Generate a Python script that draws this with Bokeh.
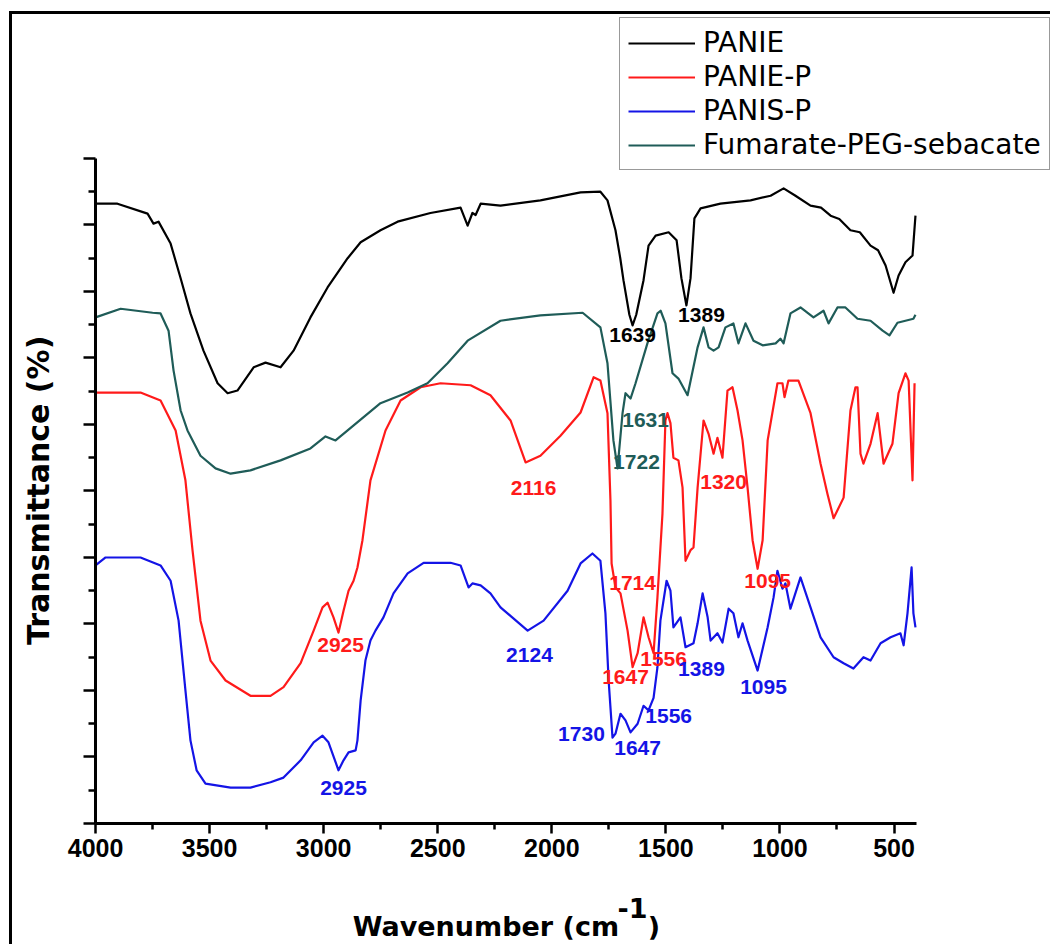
from bokeh.plotting import figure
from bokeh.models import Range1d, FixedTicker, Legend, LegendItem, Label
from bokeh.embed import file_html
from bokeh.resources import INLINE

# ---------------- data ----------------
panie_wn = [4000, 3904, 3772, 3746, 3724, 3671, 3628, 3584, 3527, 3465, 3421, 3378, 3307, 3255, 3189,
            3132, 3058, 2983, 2895, 2838, 2751, 2676, 2532, 2400, 2369, 2348, 2334, 2312, 2225, 2050,
            1874, 1787, 1756, 1721, 1700, 1686, 1660, 1646, 1630, 1598, 1576, 1545, 1488, 1453, 1432,
            1410, 1392, 1375, 1348, 1261, 1129, 1041, 984, 932, 866, 820, 778, 740, 691, 650, 603,
            570, 537, 502, 480, 450, 419, 406]
panie_t = [93.2, 93.2, 91.7, 90.2, 90.5, 87.2, 82.1, 76.7, 71.1, 66.2, 64.7, 65.1, 68.6, 69.3, 68.6,
           71.1, 76.1, 80.6, 85.0, 87.4, 89.2, 90.5, 91.8, 92.6, 89.9, 91.8, 91.5, 93.2, 92.9, 93.7,
           94.9, 95.0, 93.7, 89.2, 85.0, 81.7, 76.5, 74.9, 76.5, 81.7, 86.9, 88.4, 88.9, 87.7, 82.0,
           77.9, 82.0, 91.0, 92.5, 93.2, 93.7, 94.4, 95.5, 94.4, 92.9, 92.6, 91.4, 90.9, 89.2, 88.9, 86.9,
           86.2, 83.9, 79.8, 82.4, 84.4, 85.4, 91.4]

paniep_wn = [4000, 3803, 3715, 3649, 3606, 3575, 3540, 3496, 3430, 3321, 3233, 3176, 3101, 3044, 3005,
             2983, 2957, 2935, 2913, 2891, 2869, 2852, 2830, 2795, 2729, 2663, 2575, 2488, 2356, 2269,
             2181, 2115, 2050, 1962, 1874, 1817, 1787, 1756, 1743, 1738, 1721, 1699, 1668, 1646, 1624,
             1598, 1576, 1554, 1537, 1515, 1502, 1493, 1480, 1467, 1445, 1427, 1414, 1392, 1379, 1361,
             1335, 1313, 1291, 1274, 1252, 1230, 1208, 1186, 1164, 1142, 1120, 1098, 1076, 1054, 1011,
             989, 980, 963, 919, 866, 822, 792, 765, 721, 691, 669, 660, 647, 634, 603, 572, 546, 507,
             480, 450, 436, 419, 410]
paniep_t = [64.8, 64.8, 63.6, 59.1, 51.6, 41.1, 30.5, 24.5, 21.5, 19.2, 19.2, 20.5, 24.1, 29.0, 32.5,
            33.2, 31.0, 28.7, 32.0, 35.0, 36.5, 38.5, 42.6, 51.6, 59.1, 63.6, 65.6, 66.2, 65.9, 64.4,
            60.6, 54.3, 55.3, 58.3, 61.8, 67.1, 66.6, 61.7, 48.6, 39.1, 35.5, 34.6, 29.0, 23.5, 25.6,
            31.0, 28.0, 25.6, 34.0, 46.6, 60.6, 61.7, 60.2, 55.0, 54.6, 50.5, 39.5, 41.1, 41.5, 50.5,
            60.6, 58.6, 55.6, 58.0, 55.0, 65.1, 65.6, 62.1, 57.6, 50.5, 42.6, 38.3, 42.6, 57.6, 66.2,
            66.2, 64.1, 66.6, 66.6, 61.7, 54.1, 49.6, 45.9, 49.0, 62.1, 65.6, 65.6, 55.6, 54.1, 57.1,
            61.7, 54.1, 57.1, 64.7, 67.7, 66.6, 51.6, 66.2]

panisp_wn = [4000, 3956, 3803, 3715, 3671, 3636, 3606, 3584, 3557, 3518, 3408, 3321, 3233, 3176, 3101,
             3044, 3005, 2979, 2935, 2913, 2891, 2860, 2852, 2838, 2817, 2795, 2773, 2738, 2694, 2632,
             2562, 2444, 2400, 2365, 2348, 2312, 2269, 2225, 2106, 2036, 1931, 1874, 1822, 1787, 1765,
             1751, 1734, 1721, 1699, 1677, 1655, 1624, 1598, 1576, 1554, 1537, 1524, 1497, 1480, 1467,
             1436, 1414, 1379, 1361, 1339, 1317, 1304, 1274, 1252, 1225, 1204, 1182, 1164, 1142, 1098,
             1054, 1028, 1011, 989, 976, 954, 910, 866, 822, 765, 721, 678, 634, 603, 559, 515, 472,
             458, 441, 423, 415, 406]
panisp_t = [38.8, 40.0, 40.0, 38.8, 36.5, 30.5, 20.0, 12.5, 8.0, 6.0, 5.4, 5.4, 6.2, 6.9, 9.5,
            12.2, 13.2, 12.2, 8.0, 9.5, 10.7, 11.0, 12.5, 18.5, 24.5, 27.5, 29.0, 31.0, 34.6, 37.6,
            39.2, 39.2, 38.8, 35.5, 36.1, 35.8, 34.6, 32.5, 29.0, 30.5, 35.0, 39.1, 40.6, 39.5, 31.6,
            21.5, 12.9, 13.5, 16.5, 15.5, 13.7, 15.0, 17.7, 17.0, 18.9, 23.5, 30.5, 36.5, 35.0, 29.5,
            31.0, 26.5, 27.1, 30.1, 34.6, 31.0, 27.5, 28.6, 27.2, 32.3, 31.6, 28.0, 30.1, 27.5, 23.0,
            29.5, 34.0, 38.0, 35.3, 36.1, 32.3, 37.0, 32.5, 28.0, 25.0, 24.1, 23.3, 25.0, 24.5, 27.1,
            28.0, 28.6, 26.8, 31.6, 38.5, 31.6, 29.5]

fps_wn = [4000, 3890, 3750, 3715, 3680, 3658, 3627, 3597, 3540, 3474, 3408, 3321, 3189, 3058, 2992,
          2948, 2895, 2751, 2632, 2545, 2457, 2369, 2225, 2050, 1865, 1787, 1756, 1730, 1712, 1690,
          1677, 1655, 1633, 1581, 1537, 1523, 1502, 1471, 1445, 1405, 1361, 1335, 1313, 1291, 1269,
          1239, 1204, 1182, 1151, 1116, 1076, 1019, 998, 984, 954, 910, 853, 809, 787, 748, 713,
          660, 603, 550, 520, 485, 450, 415, 406]
fps_t = [76.1, 77.4, 76.8, 76.7, 74.1, 68.1, 62.1, 59.1, 55.3, 53.4, 52.6, 53.1, 54.6, 56.4, 58.2,
         57.6, 59.1, 63.2, 64.8, 66.2, 69.2, 72.6, 75.6, 76.4, 76.8, 74.6, 69.2, 57.6, 53.4, 61.7,
         64.7, 63.9, 66.2, 72.2, 76.7, 77.1, 75.2, 67.7, 66.9, 64.4, 71.6, 74.6, 71.6, 71.1, 71.6,
         74.6, 75.2, 72.2, 75.2, 72.6, 71.9, 72.2, 72.9, 72.2, 76.7, 77.6, 76.1, 77.1, 75.2, 77.6, 77.6,
         75.9, 75.6, 74.1, 73.4, 75.3, 75.6, 75.9, 76.5]

series_names = ["PANIE", "PANIE-P", "PANIS-P", "Fumarate-PEG-sebacate"]
series_colors = ["#000000", "#ff1a1a", "#1414e6", "#1f5c58"]

# peak annotations: label, wavenumber position, transmittance position, series index
ann_text = ["1639", "1389", "1631", "1722", "2116", "1320", "1714", "1095", "2925", "1647", "1556",
            "2124", "1389", "1095", "1556", "1730", "1647", "2925"]
ann_wn = [1646, 1344, 1589, 1629, 2080, 1247, 1646, 1054, 2926, 1677, 1510,
          2098, 1344, 1072, 1488, 1870, 1624, 2913]
ann_t = [73.4, 76.5, 60.6, 54.3, 50.5, 51.4, 36.2, 36.5, 26.9, 22.0, 24.8,
         25.3, 23.3, 20.5, 16.2, 13.5, 11.3, 5.3]
ann_series = [0, 0, 3, 3, 1, 1, 1, 1, 1, 1, 1, 2, 2, 2, 2, 2, 2, 2]

x_major = [4000, 3500, 3000, 2500, 2000, 1500, 1000, 500]
x_minor = [3750, 3250, 2750, 2250, 1750, 1250, 750]
y_major = [0, 10, 20, 30, 40, 50, 60, 70, 80, 90, 100]
y_minor = [5, 15, 25, 35, 45, 55, 65, 75, 85, 95]

# ---------------- figure ----------------
W, H = 1041, 933
p = figure(width=W, height=H, output_backend="svg", toolbar_location=None,
           x_range=Range1d(4364, -199), y_range=Range1d(-18.65, 121.65),
           min_border_left=0, min_border_right=0, min_border_top=0, min_border_bottom=0)
p.styles = {"border-left": "3px solid black", "border-top": "3px solid black",
            "margin-left": "9px", "margin-top": "11px"}
p.outline_line_color = None
p.xgrid.visible = False
p.ygrid.visible = False
p.background_fill_color = "white"
p.border_fill_color = "white"

for ax in (p.xaxis[0], p.yaxis[0]):
    ax.axis_line_width = 3
    ax.axis_line_color = "black"
    ax.major_tick_line_width = 2.5
    ax.minor_tick_line_width = 2.5
    ax.major_tick_in = 0
    ax.minor_tick_in = 0

p.xaxis.fixed_location = 0
p.xaxis.bounds = (400, 4000)
p.xaxis.ticker = FixedTicker(ticks=x_major, minor_ticks=x_minor)
p.xaxis.major_tick_out = 10
p.xaxis.minor_tick_out = 6
p.xaxis.major_label_text_font = "Liberation Sans"
p.xaxis.major_label_text_font_style = "bold"
p.xaxis.major_label_text_font_size = "25px"
p.xaxis.major_label_text_color = "black"
p.xaxis.major_label_standoff = 6

p.yaxis.fixed_location = 4000
p.yaxis.bounds = (0, 100)
p.yaxis.ticker = FixedTicker(ticks=y_major, minor_ticks=y_minor)
p.yaxis.major_tick_out = 12
p.yaxis.minor_tick_out = 7
p.yaxis.major_label_overrides = {v: "" for v in y_major}

curves = [(panie_wn, panie_t), (paniep_wn, paniep_t), (panisp_wn, panisp_t), (fps_wn, fps_t)]
renderers = []
for (xs, ys), c in zip(curves, series_colors):
    renderers.append(p.line(xs, ys, line_color=c, line_width=2.2, line_join="round"))

for t, x, y, s in zip(ann_text, ann_wn, ann_t, ann_series):
    p.add_layout(Label(x=x, y=y, text=t, text_color=series_colors[s], text_font="Liberation Sans",
                       text_font_style="bold", text_font_size="21px",
                       text_align="center", text_baseline="middle"))

legend = Legend(items=[LegendItem(label=n, renderers=[r]) for n, r in zip(series_names, renderers)],
                location=(607, 777), label_text_font="DejaVu Sans", label_text_font_size="28px",
                label_text_color="black", glyph_width=67, glyph_height=20, label_standoff=8,
                padding=8, spacing=1, margin=0, border_line_color="#333333", border_line_width=1.5,
                background_fill_alpha=1.0)
p.add_layout(legend, "center")

# axis titles
p.add_layout(Label(x=2873, y=-15.45, text="Wavenumber (cm", text_font="DejaVu Sans",
                   text_font_style="bold", text_font_size="27px", text_align="left",
                   text_baseline="alphabetic", text_color="black"))
p.add_layout(Label(x=1712, y=-12.65, text="-1", text_font="DejaVu Sans",
                   text_font_style="bold", text_font_size="27px", text_align="left",
                   text_baseline="alphabetic", text_color="black"))
p.add_layout(Label(x=1580, y=-15.45, text=")", text_font="DejaVu Sans",
                   text_font_style="bold", text_font_size="27px", text_align="left",
                   text_baseline="alphabetic", text_color="black"))
p.add_layout(Label(x=4250, y=50.1, text="Transmittance (%)", text_font="DejaVu Sans",
                   text_font_style="bold", text_font_size="30px", text_align="center",
                   text_baseline="alphabetic", angle=1.5707963, text_color="black"))

open("out.html", "w").write(file_html(p, INLINE))
